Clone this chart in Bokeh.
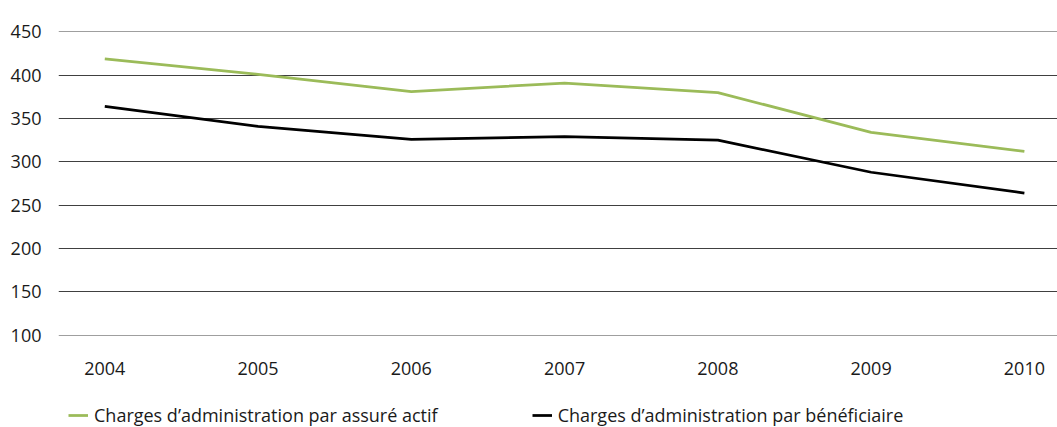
from bokeh.plotting import figure
from bokeh.layouts import column
from bokeh.models import Range1d, Legend, LegendItem, FixedTicker
from bokeh.embed import file_html
from bokeh.resources import INLINE

years = [2004, 2005, 2006, 2007, 2008, 2009, 2010]
par_assure_actif = [419, 401, 381, 391, 380, 334, 312]
par_beneficiaire = [364, 341, 326, 329, 325, 288, 264]
y_ticks = [100, 150, 200, 250, 300, 350, 400, 450]
label_actif = "Charges d\u2019administration par assuré actif"
label_benef = "Charges d\u2019administration par bénéficiaire"

FONT = "Open Sans"
GREEN = "#9BBB59"
BLACK = "#000000"
LW = 2.75

p = figure(width=1057, height=393, output_backend="svg", toolbar_location=None,
           x_range=Range1d(2003.698, 2010.216), y_range=Range1d(99.5, 450.5),
           min_border_left=58, min_border_right=0, min_border_top=31,
           min_border_bottom=58)
p.outline_line_color = None
p.background_fill_color = "white"
p.border_fill_color = "white"

p.line(years, par_assure_actif, line_color=GREEN, line_width=LW)
p.line(years, par_beneficiaire, line_color=BLACK, line_width=LW)

p.xaxis.ticker = FixedTicker(ticks=years)
p.yaxis.ticker = FixedTicker(ticks=y_ticks)
for ax in (p.xaxis, p.yaxis):
    ax.axis_line_color = None
    ax.major_tick_line_color = None
    ax.minor_tick_line_color = None
    ax.major_label_text_font = FONT
    ax.major_label_text_font_size = "18px"
    ax.major_label_text_color = "#1a1a1a"
p.yaxis.major_label_standoff = 11
p.xaxis.major_label_standoff = 20
p.xgrid.grid_line_color = None
p.ygrid.grid_line_color = "#404040"
p.ygrid.grid_line_width = 1

# legend strip below the chart (renderers only carry the line styles; their
# points lie outside the visible range)
pl = figure(width=1057, height=34, output_backend="svg", toolbar_location=None,
            x_range=Range1d(0, 1), y_range=Range1d(0, 1),
            x_axis_location=None, y_axis_location=None,
            min_border=0)
pl.outline_line_color = None
pl.xgrid.grid_line_color = None
pl.ygrid.grid_line_color = None
g = pl.line(x=[-10, -9], y=[-10, -10], line_color=GREEN, line_width=LW)
b = pl.line(x=[-10, -9], y=[-10, -10], line_color=BLACK, line_width=LW)

legend = Legend(items=[LegendItem(label=label_actif, renderers=[g]),
                       LegendItem(label=label_benef, renderers=[b])],
                orientation="horizontal", location="top_left",
                padding=0, margin=10, spacing=94,
                glyph_width=20, glyph_height=16, label_standoff=6,
                label_text_font=FONT, label_text_font_size="18px",
                label_text_color="#1a1a1a",
                border_line_color=None, background_fill_alpha=0)
pl.add_layout(legend, "center")

layout = column(p, pl, spacing=0)
open("out.html", "w").write(file_html(layout, INLINE))
